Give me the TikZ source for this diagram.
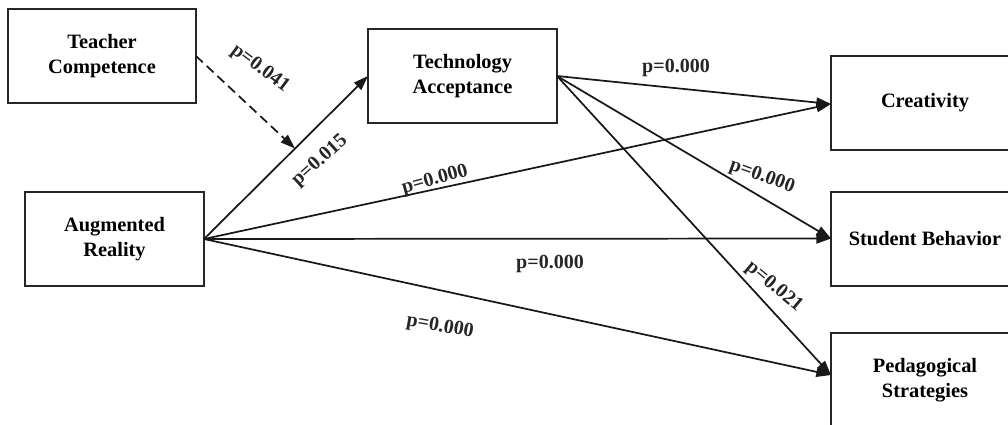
\documentclass[tikz,border=0pt]{standalone}
\usepackage{fontspec}
\setmainfont{Liberation Serif}
\usetikzlibrary{arrows.meta,calc}
\begin{document}
\begin{tikzpicture}[x=0.75pt,y=-0.75pt,
  box/.style={draw=black!85,line width=1.5pt,inner sep=0pt,outer sep=0pt,
    minimum height=70.5pt,align=center,font=\fontsize{15.3}{19}\selectfont\bfseries},
  conn/.style={draw=black!90,line width=1.3pt,-{Triangle[length=11pt,width=7.5pt]}},
  plab/.style={font=\fontsize{15}{17}\selectfont\bfseries,inner sep=1pt,text=black!85}]
\useasboundingbox (0,0) rectangle (1008,425);
\clip (0,0) rectangle (1008,425);
\fill[white] (0,0) rectangle (1008,425);
\node[box,minimum width=141pt] (tc) at (102,56) {Teacher\\Competence};
\node[box,minimum width=141.75pt] (ta) at (462.5,76) {Technology\\Acceptance};
\node[box,minimum width=134.25pt] (ar) at (114.5,239) {Augmented\\Reality};
\node[box,minimum width=141pt] (cr) at (925,103) {\raisebox{-3pt}{Creativity}};
\node[box,minimum width=141pt] (sb) at (925,238.5) {Student Behavior};
\node[box,minimum width=141pt] (ped) at (925,380) {Pedagogical\\Strategies};
\coordinate (mod) at ($(ar.east)!0.555!(ta.west)$);
\draw[conn] (ar.east) -- (ta.west);
\draw[conn,dashed,dash pattern=on 7pt off 4pt] (tc.east) -- (mod);
\draw[conn] (ta.east) -- ($(cr.west)+(0,1)$);
\draw[conn] (ar.east) -- ($(cr.west)+(0,1)$);
\draw[conn] (ta.east) -- (sb.west);
\draw[conn] (ar.east) -- (sb.west);
\draw[conn] (ta.east) -- ($(ped.west)+(0,-5)$);
\draw[conn] (ar.east) -- ($(ped.west)+(0,-5)$);
\node[plab,rotate=-37] (l1) at (260,69) {p=0.041};
\node[plab,rotate=42] (l2) at (320,161) {p=0.015};
\node[plab] (l3) at (676,68) {p=0.000};
\node[plab,rotate=15] (l4) at (435,180) {p=0.000};
\node[plab,rotate=-20] (l5) at (762,177) {p=0.000};
\node[plab] (l6) at (550,264) {p=0.000};
\node[plab,rotate=-40] (l7) at (774,287) {p=0.021};
\node[plab,rotate=-10] (l8) at (440,327) {p=0.000};
\end{tikzpicture}
\end{document}
